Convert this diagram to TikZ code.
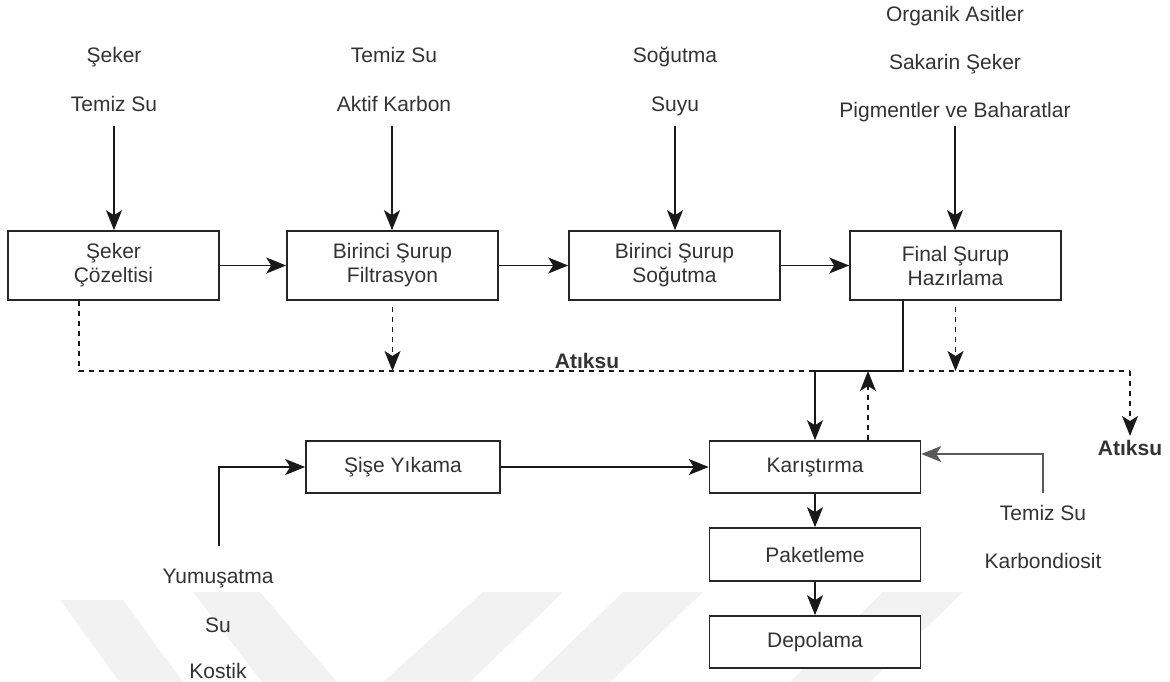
\documentclass[tikz,border=0pt]{standalone}
\usepackage{fontspec}
\setmainfont{Liberation Sans}
\usetikzlibrary{arrows.meta}
\tikzset{
  txt/.style={font=\fontsize{21}{24}\selectfont, text=black!80},
  proc/.style={txt, draw=black!85, fill=white, line width=1.6pt, align=center, inner sep=0pt},
  lbl/.style={txt, anchor=base, inner sep=0pt},
  boldlbl/.style={lbl, font=\fontsize{21}{24}\selectfont\bfseries},
  tip/.style={-{Stealth[length=20pt,width=16pt,inset=5pt]}},
  flow/.style={draw=black!90, line width=1.6pt, tip},
  dashline/.style={draw=black!90, line width=1.5pt, dash pattern=on 5pt off 5pt},
  waste/.style={flow, dash pattern=on 5pt off 5pt},
  wm/.style={fill=black!5}
}
\begin{document}
\begin{tikzpicture}[x=1pt,y=-1pt]
\useasboundingbox (0,0) rectangle (1170,682);

% faint background stripes
\fill[wm] (60,600) -- (123,600) -- (183,682) -- (120,682) -- cycle;
\fill[wm] (193,592) -- (260,592) -- (337,682) -- (262,682) -- cycle;
\fill[wm] (483,592) -- (563,592) -- (470,682) -- (383,682) -- cycle;
\fill[wm] (623,592) -- (703,592) -- (610,682) -- (530,682) -- cycle;
\fill[wm] (883,592) -- (963,592) -- (870,682) -- (790,682) -- cycle;

% process boxes
\node[proc, minimum width=211pt, minimum height=69pt] (sk) at (113.5,265.5) {Şeker\\Çözeltisi};
\node[proc, minimum width=211pt, minimum height=69pt] (bf) at (392.5,265.5) {Birinci Şurup\\Filtrasyon};
\node[proc, minimum width=211pt, minimum height=69pt] (bs) at (674.5,265.5) {Birinci Şurup\\Soğutma};
\node[proc, minimum width=211pt, minimum height=69pt] (fs) at (955.5,265.5) {Final Şurup\\Hazırlama};
\node[proc, minimum width=194pt, minimum height=52pt] (sy) at (403,467) {Şişe Yıkama};
\node[proc, minimum width=211pt, minimum height=52pt] (kr) at (815,467) {Karıştırma};
\node[proc, minimum width=211pt, minimum height=53pt] (pk) at (815,554.5) {Paketleme};
\node[proc, minimum width=211pt, minimum height=52pt] (dp) at (815,642) {Depolama};

% input labels
\node[lbl] (i1a) at (114,63) {Şeker};
\node[lbl] (i1b) at (114,112) {Temiz Su};
\node[lbl] (i2a) at (394,63) {Temiz Su};
\node[lbl] (i2b) at (394,112) {Aktif Karbon};
\node[lbl] (i3a) at (675,63) {Soğutma};
\node[lbl] (i3b) at (675,112) {Suyu};
\node[lbl] (i4a) at (955,22) {Organik Asitler};
\node[lbl] (i4b) at (955,70) {Sakarin Şeker};
\node[lbl] (i4c) at (955,118) {Pigmentler ve Baharatlar};
\node[lbl] (t1) at (1043,520) {Temiz Su};
\node[lbl] (t2) at (1043,568) {Karbondiosit};
\node[lbl] (y1) at (218,583) {Yumuşatma};
\node[lbl] (y2) at (218,632) {Su};
\node[lbl] (y3) at (218,678) {Kostik};
\node[boldlbl] (atk1) at (587,368) {Atıksu};
\node[boldlbl] (atk2) at (1130,455) {Atıksu};

% input feeds
\coordinate (f1) at (114,126);
\coordinate (f2) at (392,126);
\coordinate (f3) at (675,126);
\coordinate (f4) at (955,126);
\draw[flow] (f1) -- (f1 |- sk.north);
\draw[flow] (f2) -- (f2 |- bf.north);
\draw[flow] (f3) -- (f3 |- bs.north);
\draw[flow] (f4) -- (f4 |- fs.north);

% main syrup line
\draw[flow] (sk.east) -- (bf.west);
\draw[flow] (bf.east) -- (bs.west);
\draw[flow] (bs.east) -- (fs.west);

% waste water collector
\coordinate (wL) at (79,371);
\coordinate (wR) at (1130,371);
\coordinate (wEnd) at (1130,436);
\draw[dashline] (sk.south -| wL) -- (wL) -- (wR);
\draw[waste] (wR) -- (wEnd);
\draw[waste, shorten <=6pt] (bf.south) -- (bf.south |- wL);
\draw[waste, shorten <=6pt] (fs.south) -- (fs.south |- wL);
\coordinate (kup) at (868,371);
\draw[waste] (kup |- kr.north) -- (kup);

% final syrup to mixing
\coordinate (fsd) at (903,371);
\draw[flow] (fsd |- fs.south) -- (fsd) -- (fsd -| kr.north) -- (kr.north);

% bottle washing
\coordinate (yu) at (219,546);
\draw[flow] (yu) -- (yu |- sy.west) -- (sy.west);
\draw[flow] (sy.east) -- (kr.west);

% water and carbon dioxide feed
\coordinate (ts) at (1043,493);
\coordinate (tk) at (1043,454);
\draw[flow, draw=black!65] (ts) -- (tk) -- (tk -| kr.east);

% packaging line
\draw[flow] (kr.south) -- (pk.north);
\draw[flow] (pk.south) -- (dp.north);
\end{tikzpicture}
\end{document}
